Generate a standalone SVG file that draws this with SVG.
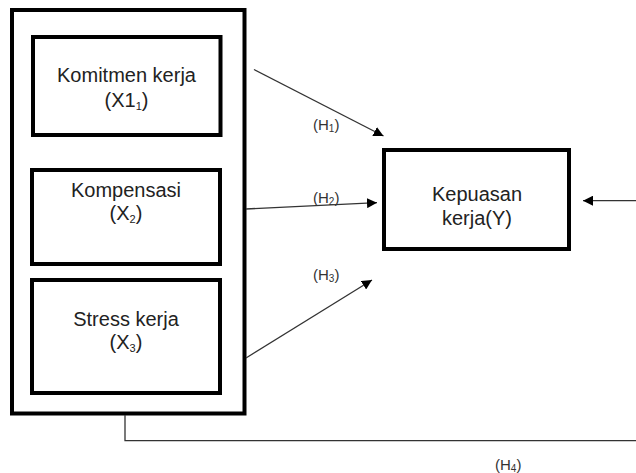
<svg xmlns="http://www.w3.org/2000/svg" width="636" height="473" viewBox="0 0 636 473">
<style>
.box{fill:#fff;stroke:#000;stroke-width:4}
.lbl{font-family:"Liberation Sans",Arial,sans-serif;font-size:20px;fill:#222;text-anchor:middle}
.h{font-family:"Liberation Sans",Arial,sans-serif;font-size:15px;fill:#333}
.sub{font-size:11px}
.hs{font-size:10px}
.ln{fill:none;stroke:#333;stroke-width:1.3}
</style>
<defs>
<marker id="ah" markerWidth="10" markerHeight="10" refX="10" refY="5" orient="auto" markerUnits="userSpaceOnUse" viewBox="0 0 10 10">
<path d="M0,0 L10,5 L0,10 Z" fill="#000"/>
</marker>
</defs>
<g id="outer"><rect class="box" x="12" y="10" width="232.5" height="403.5"/></g>
<g id="x1"><rect class="box" x="33" y="37" width="187.5" height="98"/>
<text class="lbl" x="126.5" y="82">Komitmen kerja</text>
<text class="lbl" x="126.5" y="107">(X1<tspan class="sub" dy="3">1</tspan><tspan dy="-3">)</tspan></text></g>
<g id="x2"><rect class="box" x="32" y="170" width="188" height="94"/>
<text class="lbl" x="126" y="197">Kompensasi</text>
<text class="lbl" x="126" y="220">(X<tspan class="sub" dy="3">2</tspan><tspan dy="-3">)</tspan></text></g>
<g id="x3"><rect class="box" x="32" y="280" width="188" height="113"/>
<text class="lbl" x="126" y="326">Stress kerja</text>
<text class="lbl" x="126" y="349">(X<tspan class="sub" dy="3">3</tspan><tspan dy="-3">)</tspan></text></g>
<g id="y"><rect class="box" x="384" y="150" width="185" height="99"/>
<text class="lbl" x="477" y="201">Kepuasan</text>
<text class="lbl" x="477" y="225">kerja(Y)</text></g>
<g id="connectors">
<line class="ln" x1="254" y1="69.5" x2="383.5" y2="136" marker-end="url(#ah)"/>
<line class="ln" x1="246" y1="209" x2="377" y2="202.7" marker-end="url(#ah)"/>
<line class="ln" x1="246" y1="358" x2="372" y2="280" marker-end="url(#ah)"/>
<line class="ln" x1="636" y1="200.7" x2="583" y2="200.7" marker-end="url(#ah)"/>
<polyline class="ln" points="125,415 125,440.7 636,440.7"/>
</g>
<g id="labels">
<text class="h" x="313" y="130">(H<tspan class="hs" dy="2">1</tspan><tspan dy="-2">)</tspan></text>
<text class="h" x="313" y="203">(H<tspan class="hs" dy="2">2</tspan><tspan dy="-2">)</tspan></text>
<text class="h" x="313" y="280">(H<tspan class="hs" dy="2">3</tspan><tspan dy="-2">)</tspan></text>
<text class="h" x="495" y="470">(H<tspan class="hs" dy="2">4</tspan><tspan dy="-2">)</tspan></text>
</g>
</svg>
